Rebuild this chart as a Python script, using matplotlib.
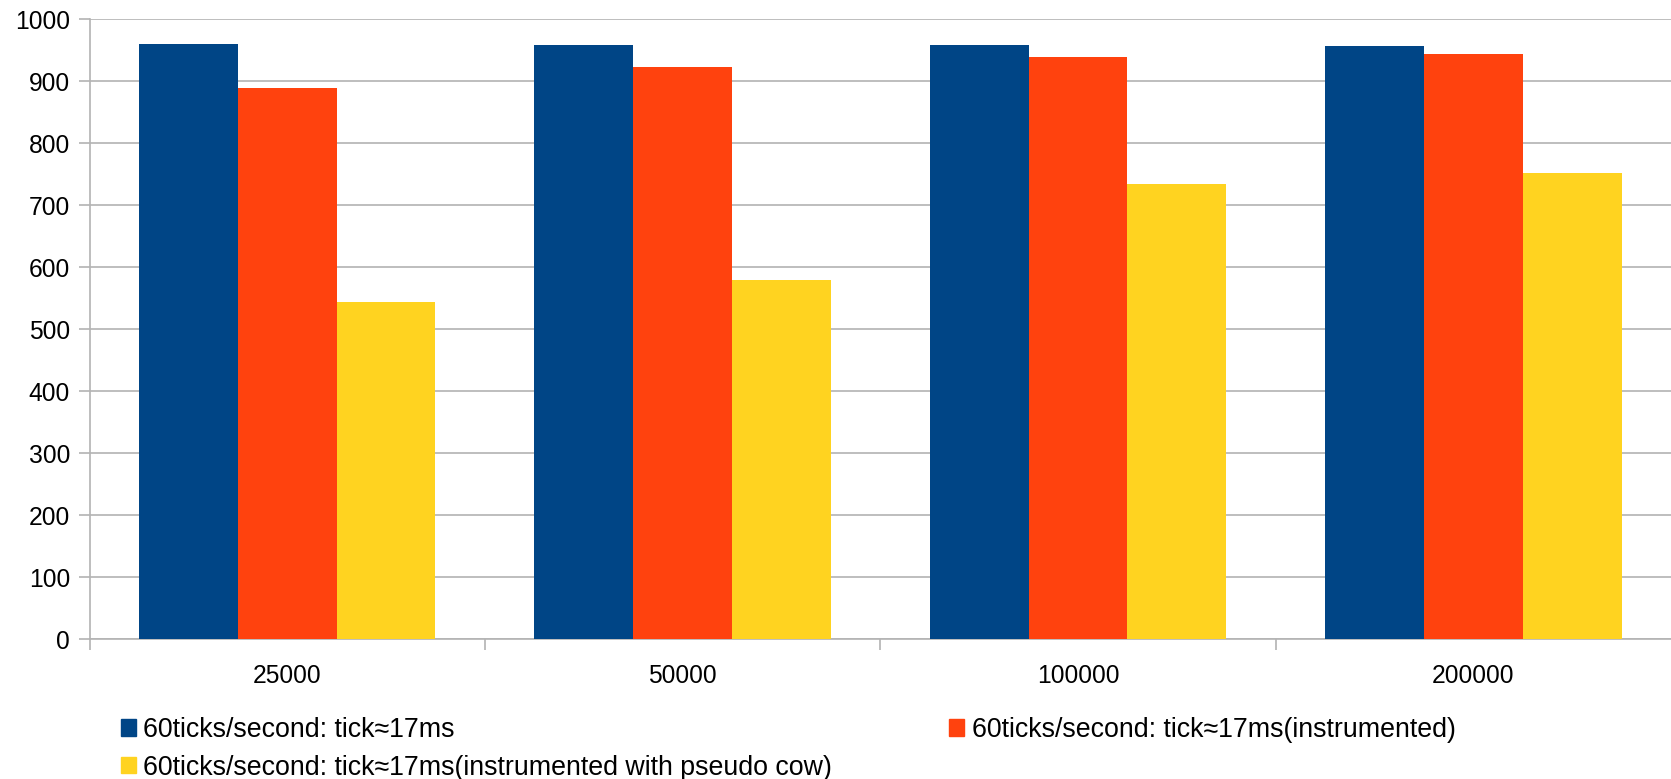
import numpy as np
import matplotlib
matplotlib.use("Agg")
import matplotlib.pyplot as plt
from matplotlib.patches import Patch
from matplotlib.ticker import FixedLocator

plt.rcParams["font.family"] = ["Liberation Sans", "DejaVu Sans"]

categories = ["25000", "50000", "100000", "200000"]
series_names = [
    "60ticks/second: tick≈17ms",
    "60ticks/second: tick≈17ms(instrumented)",
    "60ticks/second: tick≈17ms(instrumented with pseudo cow)",
]
plain = [960, 959, 959, 957]
instrumented = [889, 923, 939, 944]
pseudo_cow = [544, 580, 735, 752]
y_ticks = [0, 100, 200, 300, 400, 500, 600, 700, 800, 900, 1000]

colors = ["#004586", "#ff420e", "#ffd320"]
grid_color = "#b3b3b3"
fs = 17.7
legend_fs = 19.3

fig = plt.figure(figsize=(16.71, 7.79), dpi=100)
ax = fig.add_axes([89.5 / 1671, 1 - 639.3 / 779, 1 - 89.5 / 1671, 620 / 779])

x = np.arange(len(categories))
width = 0.25
for i, vals in enumerate([plain, instrumented, pseudo_cow]):
    ax.bar(x + (i - 1) * width, vals, width, color=colors[i], label=series_names[i], zorder=3)

ax.set_xlim(-0.5, len(categories) - 0.5)
ax.set_ylim(0, 1000)
ax.set_yticks(y_ticks)
ax.set_yticklabels([str(v) for v in y_ticks], fontsize=fs)
ax.grid(axis="y", color=grid_color, linewidth=1.2, zorder=0)

# category labels sit at the centres, boundary ticks between groups
ax.set_xticks(x)
ax.set_xticklabels(categories, fontsize=fs)
ax.xaxis.set_minor_locator(FixedLocator(np.arange(-0.5, len(categories) - 0.5, 1.0)))
ax.tick_params(axis="x", which="major", length=0, pad=18)
ax.tick_params(axis="x", which="minor", length=8, width=1.2, color=grid_color)
ax.tick_params(axis="y", length=8, width=1.2, color=grid_color, pad=6)

for side in ["top", "right"]:
    ax.spines[side].set_visible(False)
for side in ["left", "bottom"]:
    ax.spines[side].set_color(grid_color)
    ax.spines[side].set_linewidth(1.2)

handles = [Patch(color=c) for c in colors]
order = [0, 2, 1]
fig.legend(
    [handles[i] for i in order],
    [series_names[i] for i in order],
    ncol=2,
    loc="upper left",
    bbox_to_anchor=(121 / 1671, 1 - 717 / 779),
    frameon=False,
    fontsize=legend_fs,
    borderpad=0,
    borderaxespad=0,
    handlelength=0.55,
    handleheight=0.55,
    handletextpad=0.28,
    labelspacing=0.43,
    columnspacing=4.37,
)

fig.savefig("out.png", dpi=100)
